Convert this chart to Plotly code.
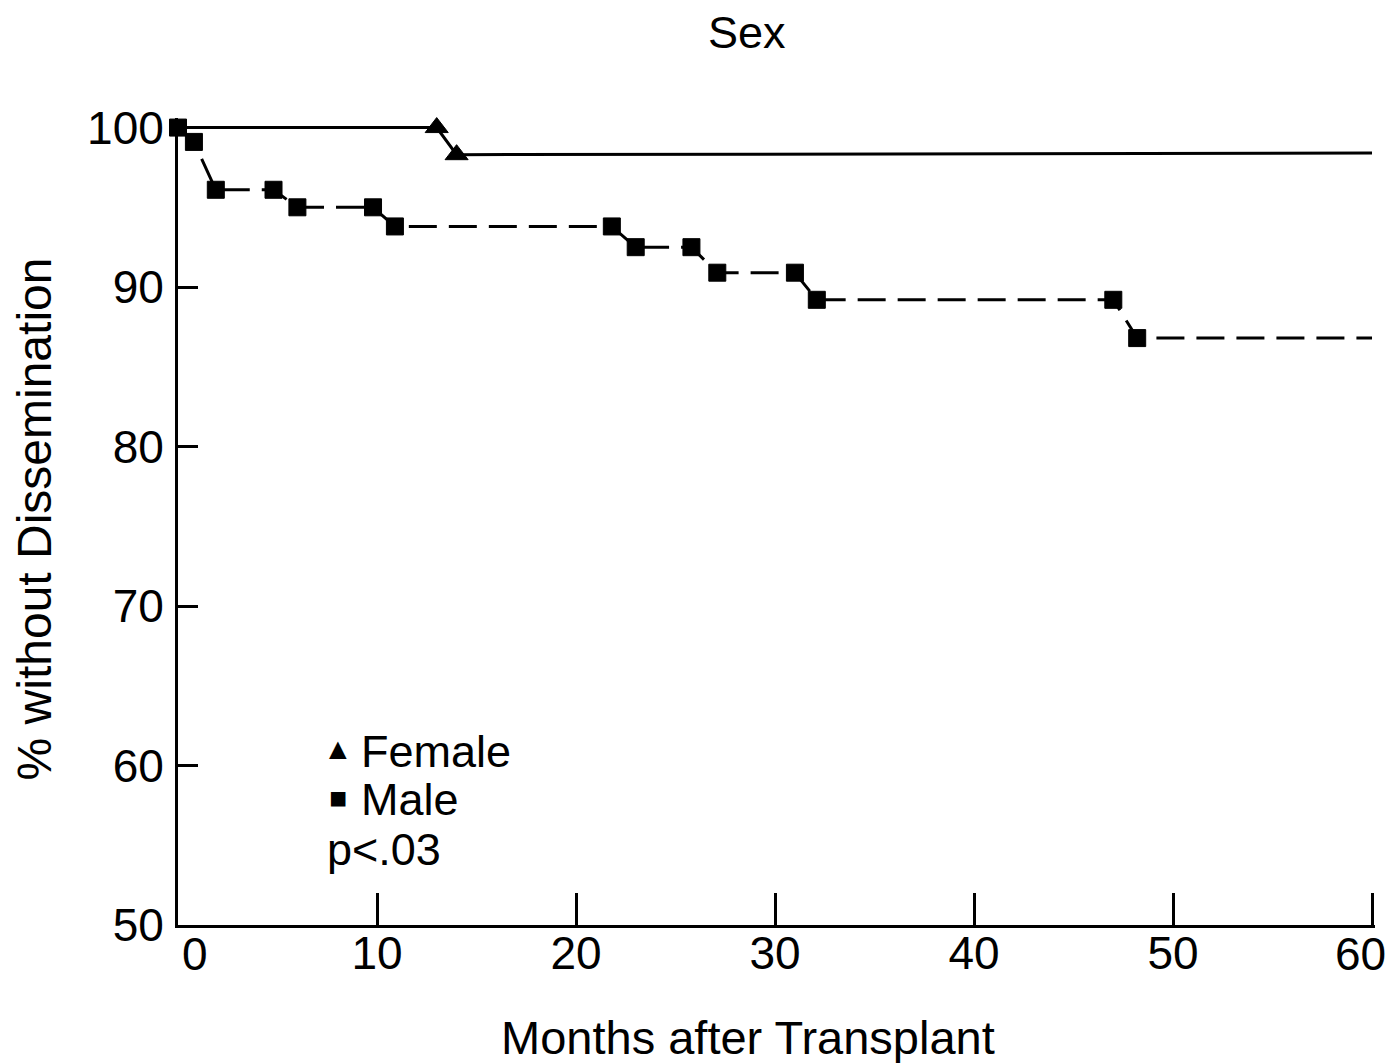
import plotly.graph_objects as go

# Data
female_x = [0, 13.0, 14.0, 60]
female_y = [100, 100, 98.3, 98.4]
male_x = [0, 0.8, 1.9, 4.8, 6.0, 9.8, 10.9, 21.8, 23.0, 25.8, 27.1, 31.0, 32.1, 47.0, 48.2, 60]
male_y = [100, 99.1, 96.1, 96.1, 95.0, 95.0, 93.8, 93.8, 92.5, 92.5, 90.9, 90.9, 89.2, 89.2, 86.8, 86.8]
x_ticks = [0, 10, 20, 30, 40, 50, 60]
x_tick_labels = ["0", "10", "20", "30", "40", "50", "60"]
y_ticks = [50, 60, 70, 80, 90, 100]

FONT = "Liberation Sans, Arial, sans-serif"
BLACK = "#000000"

fig = go.Figure()

fig.add_trace(go.Scatter(
    x=female_x, y=female_y, mode="lines+markers", name="Female",
    line=dict(color=BLACK, width=3),
    marker=dict(symbol="triangle-up", color=BLACK, opacity=1,
                line=dict(width=1, color=BLACK),
                size=[0] + [20] * (len(female_x) - 2) + [0]),
    cliponaxis=False, showlegend=False,
))
fig.add_trace(go.Scatter(
    x=male_x, y=male_y, mode="lines+markers", name="Male",
    line=dict(color=BLACK, width=3, dash="28px,12px"),
    marker=dict(symbol="square", color=BLACK, opacity=1,
                line=dict(width=1, color=BLACK),
                size=[17] * (len(male_x) - 1) + [0]),
    cliponaxis=False, showlegend=False,
))

def ann(x, y, text, size, xanchor="left", angle=0):
    fig.add_annotation(xref="paper", yref="paper", xanchor=xanchor, yanchor="middle",
                       showarrow=False, x=x, y=y, text=text, textangle=angle,
                       font=dict(family=FONT, color=BLACK, size=size))

# legend block
ann(0.134, 0.219, "▲", 30, xanchor="center")
ann(0.134, 0.158, "■", 30, xanchor="center")
ann(0.151, 0.215, "Female", 45)
ann(0.151, 0.155, "Male", 45)
ann(0.123, 0.094, "p<.03", 45)

# titles
ann(0.475, 1.106, "Sex", 45, xanchor="center")
ann(0.476, -0.139, "Months after Transplant", 47, xanchor="center")
ann(-0.120, 0.503, "% without Dissemination", 48, xanchor="center", angle=-90)

# first/last x tick labels sit slightly inward in the reference: draw them as
# annotations anchored on their tick values, the rest as normal tick labels
tick_text = list(x_tick_labels)
for idx, shift in ((0, 17), (len(x_ticks) - 1, -12)):
    fig.add_annotation(xref="x", yref="paper", x=x_ticks[idx], y=0,
                       xanchor="center", yanchor="middle", xshift=shift, yshift=-29,
                       showarrow=False, text=x_tick_labels[idx],
                       font=dict(family=FONT, color=BLACK, size=46))
    tick_text[idx] = ""

# page body has an 8px margin, so the figure is sized to fit the window
fig.update_layout(
    width=1386, height=1055,
    margin=dict(l=170, r=19, t=110, b=138),
    paper_bgcolor="white", plot_bgcolor="white",
    font=dict(family=FONT, color=BLACK),
)
fig.update_xaxes(
    range=[0, 60.15], tickvals=x_ticks, ticktext=tick_text,
    ticks="inside", ticklen=32, tickwidth=3, tickcolor=BLACK,
    showline=True, linewidth=3, linecolor=BLACK, showgrid=False, zeroline=False,
    tickfont=dict(family=FONT, size=46, color=BLACK),
    ticklabelstandoff=-14, ticklabeloverflow="allow", automargin=False,
)
fig.update_yaxes(
    range=[50, 100.6], tickvals=y_ticks, ticktext=[str(v) for v in y_ticks],
    ticks="inside", ticklen=20, tickwidth=3, tickcolor=BLACK,
    showline=True, linewidth=3, linecolor=BLACK, showgrid=False, zeroline=False,
    tickfont=dict(family=FONT, size=46, color=BLACK),
    ticklabelstandoff=2, automargin=False,
)

fig.write_html("out.html")
